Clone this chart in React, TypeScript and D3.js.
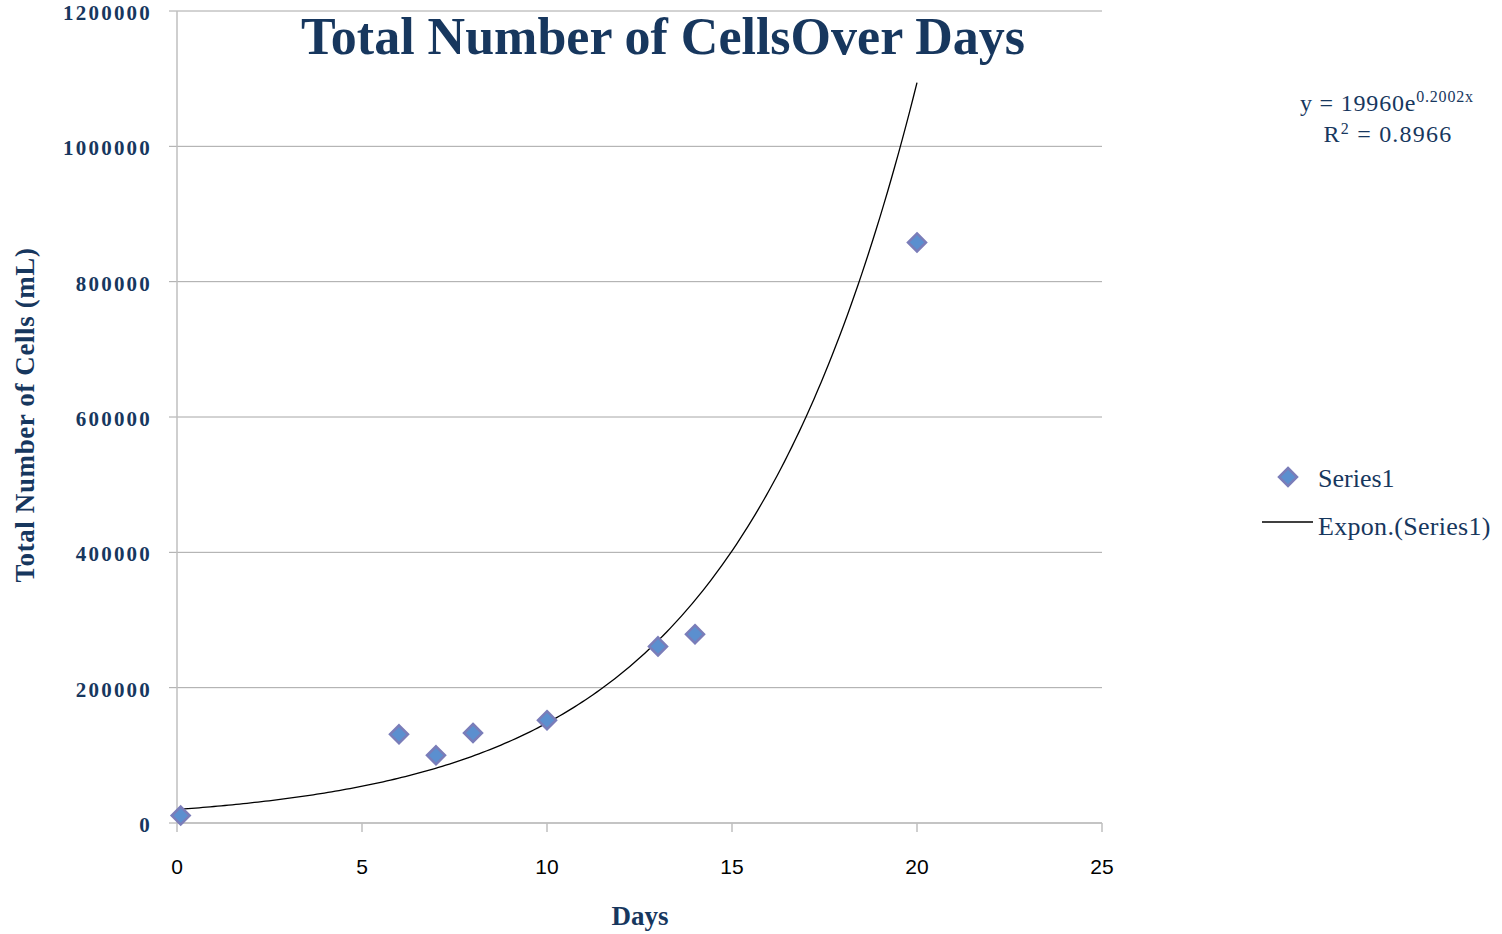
import React from "react";
import * as d3 from "d3";

const days = [0.1, 6, 7, 8, 10, 13, 14, 20];
const cells = [11000, 131000, 100000, 133000, 152000, 261000, 279000, 858000];
const yTicks = [0, 200000, 400000, 600000, 800000, 1000000, 1200000];
const xTicks = [0, 5, 10, 15, 20, 25];
const trendA = 19960;
const trendB = 0.2002;
const rSquared = "0.8966";
const titleText = "Total Number of CellsOver Days";
const xLabel = "Days";
const yLabel = "Total Number of Cells (mL)";
const seriesName = "Series1";
const trendName = "Expon.(Series1)";

const NAVY = "#17375E";
const SERIF = "'Liberation Serif', 'DejaVu Serif', serif";
const SANS = "'Liberation Sans', Arial, sans-serif";

export default function App() {
  const W = 1502, H = 934;
  const left = 177, right = 1102, top = 11, bottom = 823;
  const x = d3.scaleLinear().domain([0, 25]).range([left, right]);
  const y = d3.scaleLinear().domain([0, 1200000]).range([bottom, top]);

  const [x0, x1] = d3.extent(days) as [number, number];
  const trendPts = d3.range(0, 201).map((i) => {
    const xv = x0 + ((x1 - x0) * i) / 200;
    return [xv, trendA * Math.exp(trendB * xv)] as [number, number];
  });
  const line = d3.line<[number, number]>().x((d) => x(d[0])).y((d) => y(d[1]));

  const diamond = (cx: number, cy: number, r = 9) =>
    `M${cx},${cy - r}L${cx + r},${cy}L${cx},${cy + r}L${cx - r},${cy}Z`;

  return (
    <svg width={W} height={H} style={{ position: "absolute", left: 0, top: 0, background: "#fff" }}>
      {yTicks.map((t) => (
        <line key={"g" + t} x1={left - 8} x2={right} y1={y(t)} y2={y(t)} stroke="#A6A6A6" strokeWidth={1} />
      ))}
      <line x1={left} x2={left} y1={top} y2={bottom} stroke="#BFBFBF" strokeWidth={1.5} />
      <line x1={left} x2={right} y1={bottom} y2={bottom} stroke="#BFBFBF" strokeWidth={1.5} />
      {xTicks.map((t) => (
        <line key={"xt" + t} x1={x(t)} x2={x(t)} y1={bottom} y2={bottom + 9} stroke="#BFBFBF" strokeWidth={1.5} />
      ))}
      {yTicks.map((t) => (
        <text key={"yl" + t} x={152} y={y(t) + 9} textAnchor="end" fontFamily={SERIF} fontSize={21}
          fontWeight={600} fill={NAVY} letterSpacing={2.2}>{t}</text>
      ))}
      {xTicks.map((t) => (
        <text key={"xl" + t} x={x(t)} y={874} textAnchor="middle" fontFamily={SANS} fontSize={21} fill="#000">{t}</text>
      ))}
      <path d={line(trendPts) || ""} fill="none" stroke="#000" strokeWidth={1.3} />
      {days.map((d, i) => (
        <path key={"p" + i} d={diamond(x(d), y(cells[i]))} fill="#5B8FCF" stroke="#7A7DB9" strokeWidth={2.5} />
      ))}
      <text x={663} y={54} textAnchor="middle" fontFamily={SERIF} fontWeight="bold" fontSize={52} fill={NAVY}>{titleText}</text>
      <text x={640} y={925} textAnchor="middle" fontFamily={SERIF} fontWeight="bold" fontSize={27} fill={NAVY}>{xLabel}</text>
      <text transform={`translate(34,415) rotate(-90)`} textAnchor="middle" fontFamily={SERIF} fontWeight="bold" fontSize={27}
        letterSpacing={0.6} fill={NAVY}>{yLabel}</text>
      <text x={1300} y={111} fontFamily={SERIF} fontSize={24} fill={NAVY} letterSpacing={0.8}>
        {`y = ${trendA}e`}
        <tspan dy={-9} fontSize={16}>{`${trendB}x`}</tspan>
      </text>
      <text x={1388} y={142} textAnchor="middle" fontFamily={SERIF} fontSize={24} fill={NAVY} letterSpacing={1.2}>
        {"R"}
        <tspan dy={-8} fontSize={16}>2</tspan>
        <tspan dy={8}>{` = ${rSquared}`}</tspan>
      </text>
      <path d={diamond(1288, 477)} fill="#5B8FCF" stroke="#7A7DB9" strokeWidth={2.5} />
      <text x={1318} y={487} fontFamily={SERIF} fontSize={26} fill={NAVY}>{seriesName}</text>
      <line x1={1262} x2={1313} y1={522} y2={522} stroke="#000" strokeWidth={1.3} />
      <text x={1318} y={535} fontFamily={SERIF} fontSize={26} fill={NAVY} letterSpacing={0.3}>{trendName}</text>
    </svg>
  );
}
